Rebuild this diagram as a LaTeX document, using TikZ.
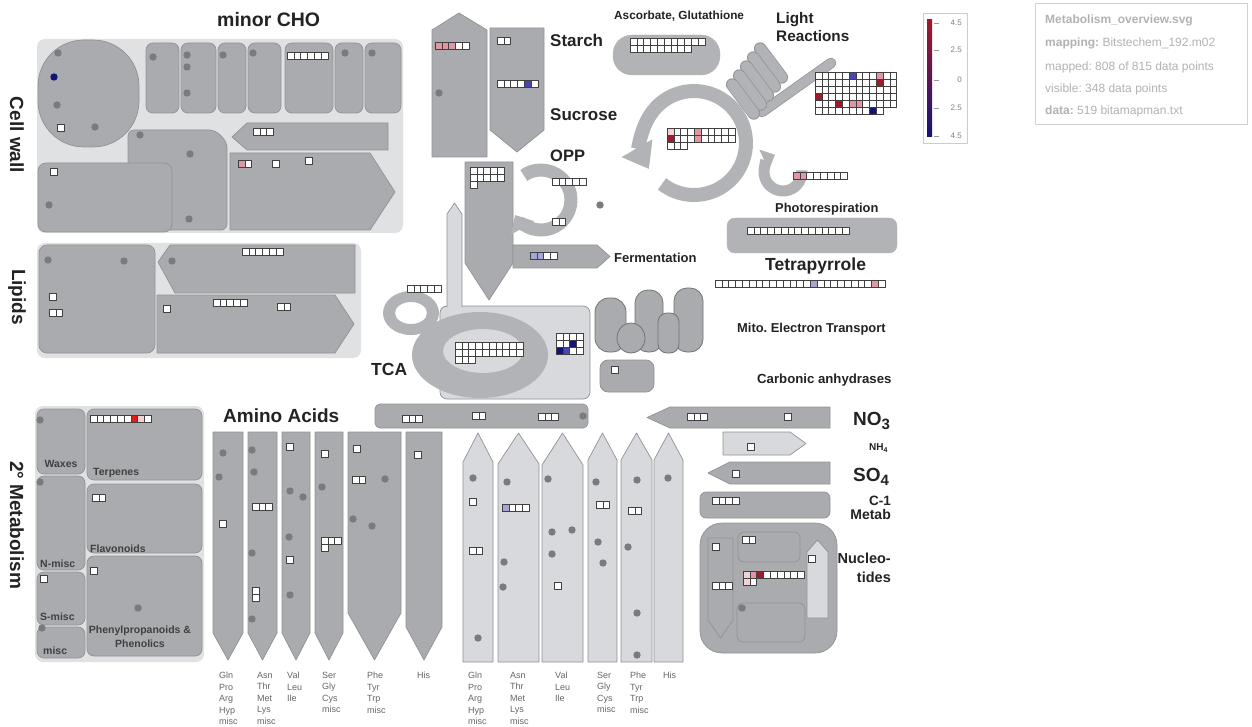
\documentclass[tikz,border=0pt]{standalone}
\usepackage{fontspec}
\setmainfont{Liberation Sans}
\usetikzlibrary{arrows.meta}
\frenchspacing
\definecolor{bx}{RGB}{170,171,175}
\definecolor{bxe}{RGB}{145,146,150}
\definecolor{bgp}{RGB}{224,225,227}
\definecolor{lt}{RGB}{216,217,220}
\definecolor{ringc}{RGB}{178,179,182}
\definecolor{dotc}{RGB}{122,123,127}
\definecolor{txt}{RGB}{35,35,35}
\definecolor{pk}{RGB}{226,150,162}
\definecolor{lpk}{RGB}{242,208,212}
\definecolor{rd}{RGB}{160,25,45}
\definecolor{brd}{RGB}{220,30,30}
\definecolor{bl}{RGB}{70,70,180}
\definecolor{nv}{RGB}{20,20,120}
\definecolor{lbl}{RGB}{165,165,215}
\newcommand\fsz[2]{\fontsize{#1}{#2}\selectfont}
\newcommand\cellrow[3]{\foreach \gi in {1,...,#3}{\draw[cell] ({#1+(\gi-1)*6.8},{#2}) rectangle +(6.8,7);}}
\newcommand\cgrid[4]{\foreach \gj in {1,...,#4}{\foreach \gi in {1,...,#3}{\draw[cell] ({#1+(\gi-1)*6.8},{#2+(\gj-1)*7}) rectangle +(6.8,7);}}}
\newcommand\gcl[5]{\draw[cell,fill=#5] ({#1+#3*6.8},{#2+#4*7}) rectangle +(6.8,7);}
\newcommand\mdot[2]{\fill[dotc] (#1,#2) circle (3.7);}
\tikzset{
 box/.style={fill=bx,draw=bxe,line width=0.7pt},
 lbox/.style={fill=lt,draw=bxe,line width=0.7pt},
 panel/.style={fill=bgp,rounded corners=8pt},
 cell/.style={fill=white,draw=black!75,line width=0.55pt},
 lab/.style={font=\bfseries\fsz{#1}{#1},text=txt,inner sep=0pt},
 small/.style={font=\bfseries\fsz{10.5}{12},text=black!75,inner sep=0pt},
 aalab/.style={font=\fsz{9}{11.5},text=black!60,inner sep=0pt,align=left,anchor=north west},
 mito/.style={fill=bx,draw=black!55,line width=0.8pt},
 ringarrow/.style={draw=ringc,line width=#1},
 info/.style={font=\fsz{12}{14},text=black!30,inner sep=0pt,anchor=base west},
}
\begin{document}
\begin{tikzpicture}[x=1pt,y=-1pt,line join=round]
\fill[white] (0,0) rectangle (1252,727);
\useasboundingbox (0,0) rectangle (1252,727);

%================ CELL WALL / minor CHO
\fill[panel] (37,39) rectangle (403,233);
\draw[box,rounded corners=46pt] (38,40) rectangle (139,147);
\foreach \a/\b in {146/179,181/216,218/246,248/281,285/333,335/363,365/401}{\draw[box,rounded corners=7pt] (\a,43) rectangle (\b,113);}
\draw[box,rounded corners=6pt] (128,130) -- (215,130) -- (227,142) -- (227,230) -- (128,230) -- cycle;
\draw[box,rounded corners=8pt] (38,163) rectangle (172,232);
\draw[box] (247,123) -- (388,123) -- (388,150) -- (247,150) -- (232,137) -- cycle;
\draw[box] (230,153) -- (370,153) -- (395,192) -- (370,230) -- (230,230) -- cycle;
\foreach \p/\q in {58/53,57/105,95/127,140/135,190/154,189/219,49/205,153/57,187/55,187/67,187/93,223/55,253/53,345/53,372/53}{\mdot{\p}{\q}}
\fill[nv] (54,77) circle (3.7);
\cellrow{57}{124}{1}\cellrow{50}{168}{1}\cellrow{253}{128}{3}
\cellrow{238}{160}{2}\gcl{238}{160}{0}{0}{pk}\cellrow{272}{160}{1}\cellrow{305}{157}{1}
\cellrow{287}{52}{6}
\node[lab=19.5,anchor=base west] (minorcho) at (217,27) {minor CHO};
\node[lab=19,rotate=-90] (cellwall) at (17,135) {Cell wall};

%================ LIPIDS
\fill[panel] (37,243) rectangle (361,358);
\draw[box,rounded corners=8pt] (39,245) rectangle (155,353);
\draw[box] (170,245) -- (355,245) -- (355,293) -- (175,293) -- (158,262) -- cycle;
\draw[box] (157,295) -- (335,295) -- (354,324) -- (335,353) -- (157,353) -- cycle;
\foreach \p/\q in {48/260,124/261,172/261}{\mdot{\p}{\q}}
\cellrow{49}{293}{1}\cellrow{49}{309}{2}\cellrow{163}{305}{1}\cellrow{213}{299}{5}\cellrow{277}{303}{2}\cellrow{242}{248}{6}
\node[lab=19,rotate=-90] (lipids) at (17,297) {Lipids};

%================ 2nd METABOLISM
\fill[panel] (35,406) rectangle (204,662);
\foreach \a/\b/\c/\d in {37/409/85/474,37/476/85/570,37/572/85/625,37/627/85/658,87/409/202/480,87/484/202/553,87/556/202/656}{\draw[box,rounded corners=7pt] (\a,\b) rectangle (\c,\d);}
\foreach \p/\q in {40/420,40/482,138/608,42/628}{\mdot{\p}{\q}}
\cellrow{90}{415}{9}\gcl{90}{415}{6}{0}{brd}\gcl{90}{415}{7}{0}{lpk}
\cellrow{92}{494}{2}\cellrow{40}{575}{1}\cellrow{90}{567}{1}
\node[small,anchor=base] (waxes) at (61,467) {Waxes};
\node[small,anchor=base west] (terp) at (93,475) {Terpenes};
\node[small,anchor=base west] (nmisc) at (40,567) {N-misc};
\node[small,anchor=base west] (flav) at (90,552) {Flavonoids};
\node[small,anchor=base west] (smisc) at (40,620) {S-misc};
\node[small,anchor=base] (phen1) at (140,633) {Phenylpropanoids \&};
\node[small,anchor=base] (phen2) at (140,647) {Phenolics};
\node[small,anchor=base west] (misc) at (43,654) {misc};
\node[lab=19,rotate=-90] (secmet) at (17,525) {2° Metabolism};

%================ AMINO ACIDS
\node[lab=19,anchor=base west] (aa) at (223,422) {Amino Acids};
\draw[box,rounded corners=5pt] (375,404) rectangle (588,428);
\foreach \a/\b/\t in {213/243/633,248/277/633,282/310/633,315/343/633,348/401/613,406/442/627}{
  \draw[box] (\a,432) -- (\b,432) -- (\b,\t) -- ({(\a+\b)/2},660) -- (\a,\t) -- cycle;}
\foreach \a/\b/\t in {463/493/462,498/539/464,542/583/465,588/617/460,621/652/460,654/683/460}{
  \draw[lbox] (\a,662) -- (\b,662) -- (\b,\t) -- ({(\a+\b)/2},433) -- (\a,\t) -- cycle;}
\cellrow{402}{415}{3}\cellrow{472}{412}{2}\cellrow{538}{413}{3}\mdot{583}{416}
\foreach \p/\q in {223/453,219/477,252/450,254/472,252/553,252/619,290/491,303/497,289/537,290/595,322/487,385/479,353/519,372/526}{\mdot{\p}{\q}}
\cellrow{219}{520}{1}\cellrow{252}{503}{3}\cellrow{252}{587}{1}\cellrow{252}{594}{1}
\cellrow{286}{443}{1}\cellrow{286}{556}{1}\cellrow{321}{450}{1}\cellrow{321}{537}{3}\cellrow{321}{544}{1}
\cellrow{353}{445}{1}\cellrow{352}{476}{2}\cellrow{414}{451}{1}
\foreach \p/\q in {473/478,478/638,507/482,504/562,503/587,548/479,552/532,572/530,552/554,596/482,598/542,603/563,637/480,628/547,637/613,637/655,668/478}{\mdot{\p}{\q}}
\cellrow{469}{498}{1}\cellrow{469}{547}{2}\cellrow{502}{504}{4}\gcl{502}{504}{0}{0}{lbl}
\cellrow{554}{582}{1}\cellrow{596}{501}{2}\cellrow{628}{507}{2}
\node[aalab] (d1) at (219,672) {Gln\\Pro\\Arg\\Hyp\\misc};
\node[aalab] (d2) at (257,672) {Asn\\Thr\\Met\\Lys\\misc};
\node[aalab] (d3) at (287,672) {Val\\Leu\\Ile};
\node[aalab] (d4) at (322,672) {Ser\\Gly\\Cys\\misc};
\node[aalab] (d5) at (367,672) {Phe\\Tyr\\Trp\\misc};
\node[aalab] (d6) at (417,672) {His};
\node[aalab] (l1) at (468,672) {Gln\\Pro\\Arg\\Hyp\\misc};
\node[aalab] (l2) at (510,672) {Asn\\Thr\\Met\\Lys\\misc};
\node[aalab] (l3) at (555,672) {Val\\Leu\\Ile};
\node[aalab] (l4) at (597,672) {Ser\\Gly\\Cys\\misc};
\node[aalab] (l5) at (630,672) {Phe\\Tyr\\Trp\\misc};
\node[aalab] (l6) at (663,672) {His};

%================ STARCH / SUCROSE / GLYCOLYSIS / OPP
\draw[box] (432,30) -- (459,13) -- (487,30) -- (487,157) -- (432,157) -- cycle;
\draw[box] (490,28) -- (544,28) -- (544,130) -- (517,152) -- (490,130) -- cycle;
\cellrow{435}{42}{5}\gcl{435}{42}{0}{0}{pk}\gcl{435}{42}{1}{0}{pk}\gcl{435}{42}{2}{0}{pk}\mdot{439}{93}
\cellrow{497}{37}{2}\cellrow{497}{80}{6}\gcl{497}{80}{4}{0}{bl}
\node[lab=17,anchor=base west] (starch) at (550,47) {Starch};
\node[lab=17,anchor=base west] (sucrose) at (550,121) {Sucrose};
\node[lab=16.5,anchor=base west] (opp) at (550,162) {OPP};
% TCA background and light arrow
\draw[fill=lt,draw=bxe,line width=0.7pt,rounded corners=7pt] (440,306) rectangle (590,399);
\draw[lbox] (447,307) -- (447,214) -- (454.5,203) -- (462,214) -- (462,307);
\draw[box] (465,162) -- (513,162) -- (513,263) -- (489,300) -- (465,263) -- cycle;
\cgrid{470}{167}{5}{2}\cellrow{470}{181}{1}
\draw[box] (513,245) -- (597,245) -- (610,256.5) -- (597,268) -- (513,268) -- cycle;
\cellrow{530}{252}{4}\gcl{530}{252}{0}{0}{lbl}\gcl{530}{252}{1}{0}{lbl}
\node[lab=13,anchor=base west] (ferm) at (614,262) {Fermentation};
\draw[ringarrow=13pt,-{Triangle[length=15pt,width=26pt]}] ([shift={(-125:30)}]541,200) arc[start angle=-125,end angle=150,radius=30];
\cellrow{552}{178}{5}\cellrow{552}{218}{2}\mdot{600}{205}

%================ TCA
\fill[ringc,even odd rule] (480,355) ellipse [x radius=68,y radius=43] (483,351) ellipse [x radius=40,y radius=22];
\fill[ringc,even odd rule] (411,313) ellipse [x radius=28,y radius=22] (411,313) ellipse [x radius=16,y radius=11];
\cellrow{407}{285}{5}
\cgrid{455}{342}{10}{2}\cellrow{455}{356}{3}
\cgrid{556}{333}{4}{3}\gcl{556}{333}{2}{1}{nv}\gcl{556}{333}{0}{2}{nv}\gcl{556}{333}{1}{2}{bl}
\node[lab=17.5,anchor=base west] (tca) at (371,375) {TCA};

%================ MITO
\draw[mito,rounded corners=14pt] (595,298) rectangle (626,352);
\draw[mito,rounded corners=13pt] (635,290) rectangle (663,352);
\draw[mito,rounded corners=13pt] (674,288) rectangle (703,352);
\draw[mito,rounded corners=9pt] (658,313) rectangle (679,353);
\draw[mito] (631,338) ellipse [x radius=14,y radius=15];
\draw[box,rounded corners=8pt] (600,360) rectangle (654,392);
\cellrow{611}{366}{1}
\node[lab=12.9,anchor=base west] (mito) at (737,332) {Mito. Electron Transport};
\node[lab=13.2,anchor=base west] (carb) at (757,383) {Carbonic anhydrases};

%================ ASCORBATE / CALVIN / LIGHT
\draw[fill=ringc,draw=bxe!70,rounded corners=19pt] (613,35) rectangle (720,75);
\cellrow{630}{38}{11}\cellrow{630}{45}{9}
\node[lab=11.8,anchor=base west] (asc) at (614,20) {Ascorbate, Glutathione};
\draw[ringarrow=14pt,-{Triangle[length=24pt,width=34pt]}] ([shift={(-232:52)}]694,143) arc[start angle=-232,end angle=-570,radius=52];
\cgrid{667}{128}{10}{2}\cellrow{667}{142}{3}
\gcl{667}{128}{0}{0}{lpk}\gcl{667}{128}{0}{1}{rd}\gcl{667}{128}{4}{0}{pk}\gcl{667}{128}{4}{1}{pk}
% light reactions
\draw[line width=10.5pt,line cap=round,bxe] (762,112) -- (831,63);
\draw[line width=9pt,line cap=round,ringc] (762,112) -- (831,63);
\foreach \cx/\cy in {771/63,764/72,757/81,750/90,743/99}{
  \draw[line width=12.5pt,line cap=round,bxe] ({\cx-10.8},{\cy-14.4}) -- ({\cx+10.8},{\cy+14.4});
  \draw[line width=11pt,line cap=round,ringc] ({\cx-10.8},{\cy-14.4}) -- ({\cx+10.8},{\cy+14.4});}
\cgrid{815}{72}{12}{5}\cellrow{815}{107}{10}
\gcl{815}{72}{5}{0}{bl}\gcl{815}{72}{9}{0}{pk}\gcl{815}{72}{9}{1}{rd}\gcl{815}{72}{0}{3}{rd}
\gcl{815}{72}{3}{4}{rd}\gcl{815}{72}{5}{4}{pk}\gcl{815}{72}{6}{4}{pk}\gcl{815}{72}{8}{5}{nv}
\node[lab=15.3,anchor=base west] (light1) at (776,24) {Light};
\node[lab=15.3,anchor=base west] (light2) at (776,42) {Reactions};

%================ PHOTORESPIRATION / TETRAPYRROLE
\draw[ringarrow=11pt,-{Triangle[length=12pt,width=22pt]}] ([shift={(-5:19)}]783,172) arc[start angle=-5,end angle=245,radius=19];
\cellrow{793}{172}{8}\gcl{793}{172}{0}{0}{pk}\gcl{793}{172}{1}{0}{pk}
\node[lab=12.9,anchor=base west] (photo) at (775,213) {Photorespiration};
\draw[fill=ringc,draw=bxe!70,rounded corners=8pt] (727,218) rectangle (897,253);
\cellrow{747}{227}{15}
\node[lab=17.5,anchor=base west] (tetra) at (765,270) {Tetrapyrrole};
\cellrow{715}{280}{25}\gcl{715}{280}{14}{0}{lbl}\gcl{715}{280}{23}{0}{pk}

%================ N, S, C1, NUCLEOTIDES
\draw[box] (670,407) -- (830,407) -- (830,428) -- (670,428) -- (647,417.5) -- cycle;
\cellrow{687}{413}{3}\cellrow{784}{413}{1}
\draw[lbox] (723,432) -- (790,432) -- (806,443.5) -- (790,455) -- (723,455) -- cycle;
\cellrow{747}{443}{1}
\draw[box] (730,462) -- (830,462) -- (830,484) -- (730,484) -- (708,473) -- cycle;
\cellrow{732}{470}{1}
\draw[box,rounded corners=6pt] (700,492) rectangle (830,518);
\cellrow{712}{497}{4}
\draw[box,rounded corners=22pt] (700,523) rectangle (837,653);
\draw[box] (708,538) -- (733,538) -- (733,620) -- (720.5,638) -- (708,620) -- cycle;
\draw[box,rounded corners=6pt] (738,532) rectangle (800,562);
\draw[box,rounded corners=6pt] (737,603) rectangle (805,642);
\draw[lbox] (807,618) -- (807,552) -- (817.5,540) -- (828,552) -- (828,618) -- cycle;
\cellrow{712}{543}{1}\cellrow{712}{582}{3}\cellrow{742}{536}{2}
\cellrow{743}{571}{9}\gcl{743}{571}{0}{0}{lpk}\gcl{743}{571}{1}{0}{pk}\gcl{743}{571}{2}{0}{rd}
\cellrow{743}{578}{2}\gcl{743}{578}{0}{0}{lpk}
\cellrow{808}{555}{1}\mdot{742}{608}
\node[lab=19,anchor=base west] (no3) at (853,425) {NO\raisebox{-4pt}{\fsz{15}{15}3}};
\node[lab=10,anchor=base west] (nh4) at (869,450) {NH\raisebox{-2pt}{\fsz{7}{7}4}};
\node[lab=19,anchor=base west] (so4) at (853,481) {SO\raisebox{-4pt}{\fsz{15}{15}4}};
\node[lab=13.5,anchor=base east] (c1) at (891,505) {C-1};
\node[lab=14,anchor=base east] (metab) at (891,519) {Metab};
\node[lab=14.5,anchor=base east] (nuc1) at (891,563) {Nucleo-};
\node[lab=14.5,anchor=base east] (nuc2) at (891,582) {tides};

%================ LEGEND
\draw[black!20,fill=white] (923,13) rectangle (967,143);
\shade[top color=rd,middle color=white,bottom color=nv] (927,20) rectangle (932,137);
\foreach \yy/\lv in {23/4.5,50/2.5,80/0,108/2.5,136/4.5}{
  \draw[black!40,line width=0.6pt] (934,\yy) -- (939,\yy);
  \node[font=\fsz{8}{9},text=black!50,inner sep=0pt,anchor=east] at (962,\yy) {\lv};}

%================ INFO BOX
\draw[black!18,line width=1pt] (1035,4) rectangle (1247,125);
\node[info] (i1) at (1045,24) {\textbf{Metabolism\_overview.svg}};
\node[info] (i2) at (1045,47) {\textbf{mapping:} Bitstechem\_192.m02};
\node[info] (i3) at (1045,71) {mapped: 808 of 815 data points};
\node[info] (i4) at (1045,93) {visible: 348 data points};
\node[info] (i5) at (1045,115) {\textbf{data:} 519 bitamapman.txt};
\end{tikzpicture}
\end{document}
